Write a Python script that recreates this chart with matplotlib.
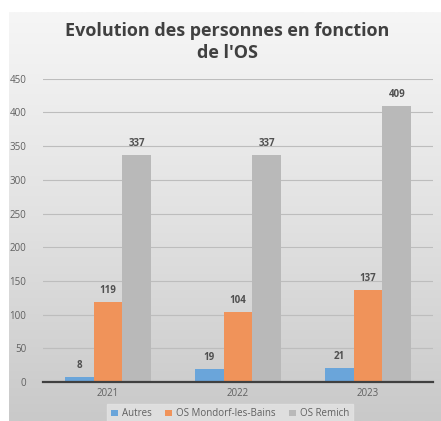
import numpy as np
import matplotlib
matplotlib.use("Agg")
import matplotlib.pyplot as plt

years = ["2021", "2022", "2023"]
series = ["Autres", "OS Mondorf-les-Bains", "OS Remich"]
autres = [8, 19, 21]
mondorf = [119, 104, 137]
remich = [337, 337, 409]
colors = ["#6aa5da", "#f0935a", "#b9b9b9"]
yticks = list(range(0, 451, 50))

plt.rcParams['font.family'] = ['Open Sans', 'DejaVu Sans']

fig = plt.figure(figsize=(4.41, 4.21), dpi=100)
fig.patch.set_facecolor("white")

# gradient frame behind the chart
bg = fig.add_axes([9 / 441, 0, 1 - 9 / 441, 1 - 12 / 421], zorder=0)
grad = np.linspace(0, 1, 256).reshape(-1, 1)
cmap = matplotlib.colors.LinearSegmentedColormap.from_list("bg", ["#f6f6f6", "#e2e2e2", "#c9c9c9"])
bg.imshow(grad, aspect="auto", cmap=cmap, extent=[0, 1, 0, 1], origin="upper")
bg.set_axis_off()

ax = fig.add_axes([43 / 441, 1 - 382 / 421, 390 / 441, (382 - 78.7) / 421], zorder=1)
ax.patch.set_alpha(0)

x = np.arange(len(years))
w = 0.223
for i, (vals, col) in enumerate(zip([autres, mondorf, remich], colors)):
    pos = x + (i - 1) * w
    ax.bar(pos, vals, w, color=col, label=series[i], zorder=3)
    for xb, v in zip(pos, vals):
        ax.text(xb, v + 9, str(v), ha="center", va="bottom", fontsize=7,
                fontweight="bold", color="#505050", zorder=4)

ax.set_xlim(-0.5, 2.5)
ax.set_ylim(0, 450)
ax.set_yticks(yticks)
ax.set_xticks(x)
ax.set_xticklabels(years)
ax.yaxis.grid(True, color="#bdbdbd", linewidth=0.8, zorder=0)
ax.set_axisbelow(True)
for s in ["top", "right", "left"]:
    ax.spines[s].set_visible(False)
ax.spines["bottom"].set_color("#404040")
ax.spines["bottom"].set_linewidth(1.6)
ax.spines["bottom"].set_zorder(5)
ax.tick_params(axis="both", length=0, labelsize=7, labelcolor="#606060")
ax.tick_params(axis="y", pad=12)
ax.tick_params(axis="x", pad=4)

fig.text(0.515, 1 - 42 / 421, "Evolution des personnes en fonction\nde l'OS", ha="center",
         va="center", fontsize=13, fontweight="bold", color="#404040", linespacing=1.3)

leg = fig.legend(loc="center", bbox_to_anchor=(230 / 441, 1 - 414 / 421), ncol=3,
                 fontsize=7, frameon=True, handlelength=0.7, handleheight=0.5,
                 columnspacing=1.4, handletextpad=0.4, borderpad=0.45)
leg.get_frame().set_facecolor("#e4e4e4")
leg.get_frame().set_edgecolor("#e4e4e4")
leg.get_frame().set_boxstyle("square", pad=0)
for t in leg.get_texts():
    t.set_color("#606060")

fig.savefig("out.png", dpi=100)
